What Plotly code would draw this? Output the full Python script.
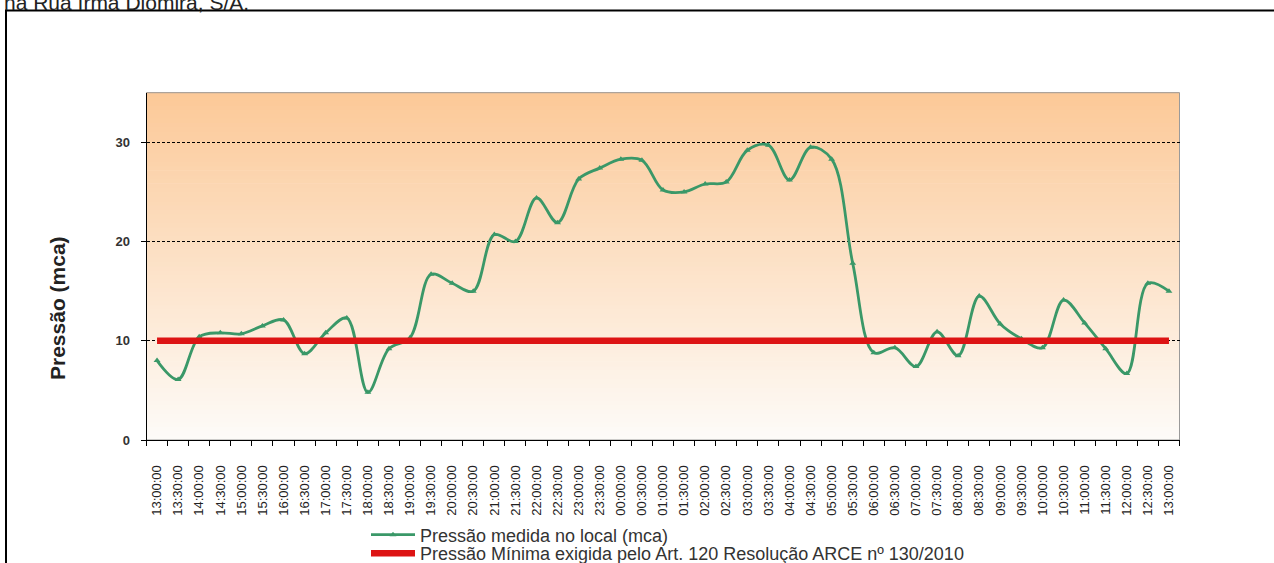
import plotly.graph_objects as go

# ---- data ----
time_labels = [
    "13:00:00", "13:30:00", "14:00:00", "14:30:00", "15:00:00", "15:30:00", "16:00:00",
    "16:30:00", "17:00:00", "17:30:00", "18:00:00", "18:30:00", "19:00:00", "19:30:00",
    "20:00:00", "20:30:00", "21:00:00", "21:30:00", "22:00:00", "22:30:00", "23:00:00",
    "23:30:00", "00:00:00", "00:30:00", "01:00:00", "01:30:00", "02:00:00", "02:30:00",
    "03:00:00", "03:30:00", "04:00:00", "04:30:00", "05:00:00", "05:30:00", "06:00:00",
    "06:30:00", "07:00:00", "07:30:00", "08:00:00", "08:30:00", "09:00:00", "09:30:00",
    "10:00:00", "10:30:00", "11:00:00", "11:30:00", "12:00:00", "12:30:00", "13:00:00",
]
pressure_measured = [
    8.0, 6.1, 10.4, 10.8, 10.7, 11.5, 12.1, 8.7, 10.8, 12.3, 4.8, 9.2, 10.3, 16.7,
    15.8, 15.0, 20.7, 20.0, 24.4, 21.9, 26.3, 27.4, 28.3, 28.2, 25.2, 25.0, 25.8,
    26.0, 29.2, 29.7, 26.2, 29.5, 28.3, 17.8, 8.8, 9.3, 7.4, 10.9, 8.5, 14.5, 11.7,
    10.2, 9.3, 14.1, 11.8, 9.2, 6.7, 15.8, 15.0,
]
pressure_minimum = [10.0] * len(time_labels)

series_names = [
    "Pressão medida no local (mca)",
    "Pressão Mínima exigida pelo Art. 120 Resolução ARCE nº 130/2010",
]
y_ticks = [0, 10, 20, 30]

x_idx = list(range(len(time_labels)))
boundaries = [i - 0.5 for i in range(len(time_labels) + 1)]

W, H = 1274, 563
px_l, px_r, px_t, px_b = 146.5, 1179.5, 92.7, 440.0

fig = go.Figure()
fig.add_trace(go.Scatter(
    x=x_idx, y=pressure_measured, name=series_names[0], mode="lines+markers",
    line=dict(color="#3A9868", width=2.8, shape="spline", smoothing=1.0),
    marker=dict(symbol="triangle-up", size=6, color="#3A9868"),
    legend="legend",
))
fig.add_trace(go.Scatter(
    x=x_idx, y=pressure_minimum, name=series_names[1], mode="lines",
    line=dict(color="#DD1414", width=6.5),
    legend="legend2",
))

# gradient background bands (top orange -> bottom near white)
shapes = []
n_bands = 80
top_c = (252, 201, 152)
bot_c = (253, 251, 248)
for k in range(n_bands):
    t = k / (n_bands - 1)  # 0 at bottom
    c = tuple(round(bot_c[j] + (top_c[j] - bot_c[j]) * t) for j in range(3))
    shapes.append(dict(
        type="rect", xref="x domain", yref="y domain", layer="below",
        x0=0, x1=1, y0=k / n_bands, y1=(k + 1) / n_bands + 0.002,
        line=dict(width=0), fillcolor="rgb(%d,%d,%d)" % c,
    ))
shapes.append(dict(
    type="rect", xref="x domain", yref="y domain", layer="below",
    x0=0, x1=1, y0=0, y1=1, line=dict(color="#9a9a9a", width=1),
    fillcolor="rgba(0,0,0,0)",
))
# outer frame
shapes.append(dict(
    type="rect", xref="paper", yref="paper", layer="above",
    x0=6 / W, x1=1.02, y0=-0.05, y1=1 - 10.5 / H,
    line=dict(color="black", width=2), fillcolor="rgba(0,0,0,0)",
))

legend_common = dict(
    orientation="v", x=366 / W, xanchor="left", yanchor="middle",
    bgcolor="rgba(0,0,0,0)", font=dict(size=18, color="#333"),
    itemwidth=44,
)

fig.update_layout(
    width=W, height=H,
    margin=dict(l=0, r=0, t=0, b=0, autoexpand=False),
    paper_bgcolor="white", plot_bgcolor="white",
    shapes=shapes,
    font=dict(family="Liberation Sans, Arial, sans-serif", color="#222"),
    showlegend=True,
    legend=dict(legend_common, y=1 - 535 / H),
    legend2=dict(legend_common, y=1 - 553.5 / H),
    xaxis=dict(
        domain=[px_l / W, px_r / W], range=[-0.5, len(time_labels) - 0.5],
        tickmode="array", tickvals=x_idx, ticktext=time_labels, tickangle=-90,
        ticks="outside", ticklen=5, tickcolor="rgba(0,0,0,0)",
        ticklabelstandoff=14,
        tickfont=dict(size=13, color="#222"),
        showline=True, linecolor="black", linewidth=1, showgrid=False, zeroline=False,
        minor=dict(tickmode="array", tickvals=boundaries, ticks="outside",
                   ticklen=5, tickcolor="black", showgrid=False),
    ),
    yaxis=dict(
        domain=[1 - px_b / H, 1 - px_t / H], range=[0, 35],
        tickmode="array", tickvals=y_ticks,
        ticks="outside", ticklen=5, tickcolor="black",
        ticklabelstandoff=8,
        tickfont=dict(size=13, color="#333", weight="bold"),
        showline=True, linecolor="black", linewidth=1,
        showgrid=True, gridcolor="black", gridwidth=1, griddash="3px,2px",
        zeroline=False,
    ),
    annotations=[
        dict(text="Pressão (mca)", xref="paper", yref="paper",
             x=58 / W, y=1 - 308 / H, textangle=-90, showarrow=False,
             xanchor="center", yanchor="middle",
             font=dict(size=21, color="#222", weight="bold")),
        dict(text="na Rua Irmã Diomira, S/A.", xref="paper", yref="paper",
             x=2 / W, y=1 - 2 / H, xanchor="left", yanchor="middle", showarrow=False,
             font=dict(size=21, color="#222")),
    ],
)

fig.write_html(
    "out.html",
    config={"displayModeBar": False},
    post_script="document.body.style.margin='0';document.body.style.overflow='hidden';",
)
